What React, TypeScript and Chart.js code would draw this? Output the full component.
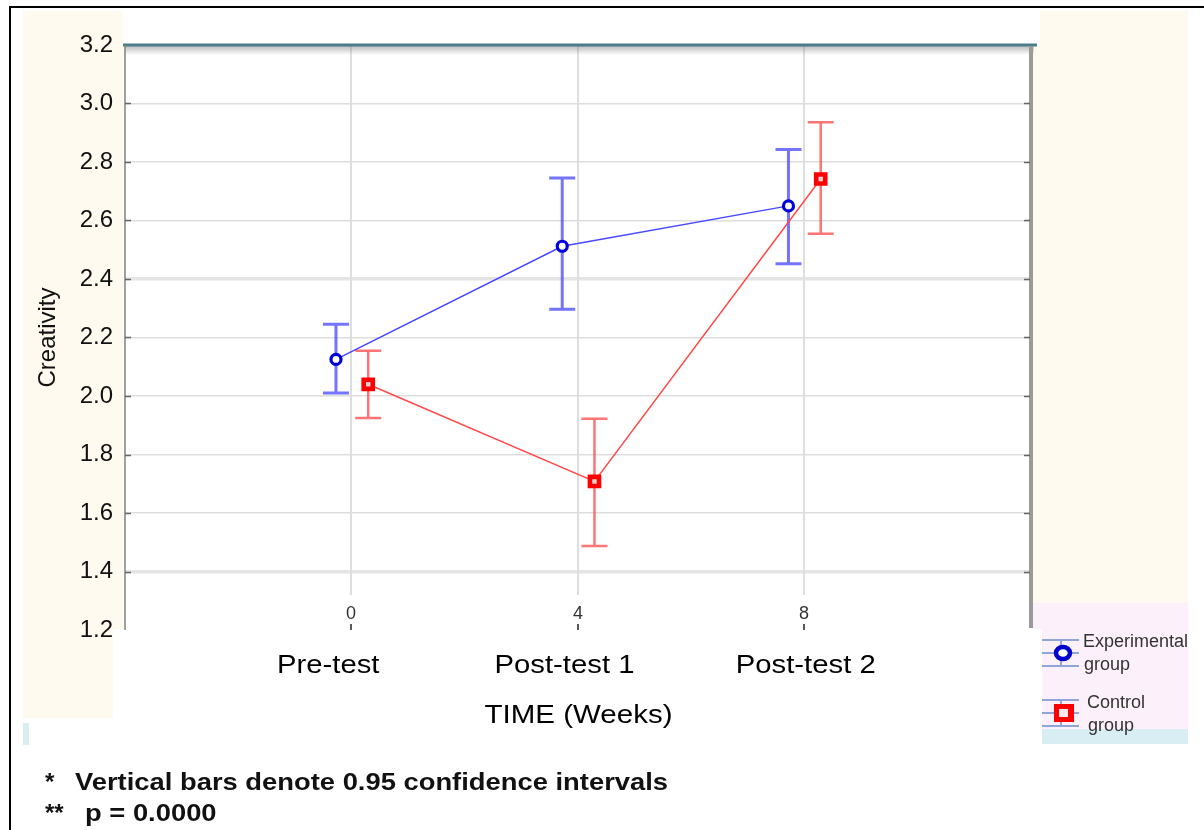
import React, { useEffect, useRef } from 'react';
import { Chart, registerables } from 'chart.js';
Chart.register(...registerables);

// ---------- data ----------
const weeks = [0, 4, 8];
const weekTickLabels = ['0', '4', '8'];
const phaseLabels = ['Pre-test', 'Post-test 1', 'Post-test 2'];
const seriesNames = ['Experimental group', 'Control group'];
const expMean = [2.125, 2.512, 2.65];
const expLow = [2.01, 2.297, 2.452];
const expHigh = [2.245, 2.745, 2.843];
const ctrlMean = [2.04, 1.708, 2.742];
const ctrlLow = [1.925, 1.487, 2.555];
const ctrlHigh = [2.155, 1.922, 2.936];
const xAxisTitle = 'TIME (Weeks)';
const yAxisTitle = 'Creativity';
const footMarks = ['*', '**'];
const footTexts = ['Vertical bars denote 0.95 confidence intervals', 'p = 0.0000'];

// ---------- style ----------
const FONT = '"Liberation Sans", Arial, Helvetica, sans-serif';
const EXP_SHIFT = -0.27;
const CTRL_SHIFT = 0.3;
const near = (a: number, b: number) => Math.abs(a - b) < 1e-6;

function stretchText(ctx: CanvasRenderingContext2D, text: string, x: number, y: number, font: string, align: string, sx: number, color: string) {
  ctx.save();
  ctx.font = font;
  ctx.fillStyle = color;
  ctx.textBaseline = 'alphabetic';
  ctx.textAlign = 'left';
  const w = ctx.measureText(text).width * sx;
  const left = align === 'center' ? x - w / 2 : align === 'right' ? x - w : x;
  ctx.translate(left, y);
  ctx.scale(sx, 1);
  ctx.fillText(text, 0, 0);
  ctx.restore();
}

const paperPlugin = {
  id: 'paper',
  beforeDraw(chart: any) {
    const ctx = chart.ctx as CanvasRenderingContext2D;
    const a = chart.chartArea;
    ctx.save();
    ctx.fillStyle = '#ffffff';
    ctx.fillRect(0, 0, chart.width, chart.height);
    ctx.fillStyle = '#fffaef';
    ctx.fillRect(23, 11, 1165, 707);
    ctx.fillStyle = '#ffffff';
    ctx.fillRect(123, 11, 917, 34);
    ctx.fillRect(a.left, a.top, a.right - a.left, a.bottom - a.top);
    ctx.fillStyle = '#fcf0fa';
    ctx.fillRect(1032, 603, 156, 126);
    ctx.fillStyle = '#ffffff';
    ctx.fillRect(113, 629, 929, 201);
    ctx.fillStyle = '#d9eef3';
    ctx.fillRect(1042, 729, 146, 15);
    ctx.fillRect(23, 723, 6, 22);
    // outer frame
    ctx.fillStyle = '#000000';
    ctx.fillRect(9, 6, chart.width - 9, 2);
    ctx.fillRect(9, 6, 2, chart.height - 6);
    ctx.restore();
  },
  beforeDatasetsDraw(chart: any) {
    const ctx = chart.ctx as CanvasRenderingContext2D;
    const a = chart.chartArea;
    const xs = chart.scales.x;
    const ys = chart.scales.y;
    ctx.save();
    // vertical grid lines, tick labels and tick marks at the week ticks
    weeks.forEach((w, i) => {
      const px = Math.round(xs.getPixelForValue(w));
      ctx.strokeStyle = '#dedede';
      ctx.lineWidth = 2;
      ctx.beginPath();
      ctx.moveTo(px, a.top);
      ctx.lineTo(px, a.bottom - 35);
      ctx.stroke();
      ctx.font = `18px ${FONT}`;
      ctx.fillStyle = '#333';
      ctx.textAlign = 'center';
      ctx.textBaseline = 'middle';
      ctx.fillText(weekTickLabels[i], px, a.bottom - 16);
      ctx.strokeStyle = '#222';
      ctx.lineWidth = 1.5;
      ctx.beginPath();
      ctx.moveTo(px, a.bottom - 6);
      ctx.lineTo(px, a.bottom);
      ctx.stroke();
    });
    // top shadow + teal line
    const g = ctx.createLinearGradient(0, a.top, 0, a.top + 10);
    g.addColorStop(0, 'rgba(120,120,120,0.55)');
    g.addColorStop(1, 'rgba(120,120,120,0)');
    ctx.fillStyle = g;
    ctx.fillRect(a.left, a.top, a.right - a.left + 4, 10);
    ctx.strokeStyle = '#4b7d89';
    ctx.lineWidth = 3;
    ctx.beginPath();
    ctx.moveTo(a.left - 2, a.top);
    ctx.lineTo(a.right + 7, a.top);
    ctx.stroke();
    // left axis
    ctx.strokeStyle = '#808080';
    ctx.lineWidth = 1.5;
    ctx.beginPath();
    ctx.moveTo(a.left, a.top);
    ctx.lineTo(a.left, a.bottom);
    ctx.stroke();
    // right axis
    ctx.strokeStyle = '#9a9a9a';
    ctx.lineWidth = 4;
    ctx.beginPath();
    ctx.moveTo(a.right + 1, a.top + 1);
    ctx.lineTo(a.right + 1, a.bottom - 2);
    ctx.stroke();
    // inner y tick marks
    ctx.strokeStyle = '#666';
    ctx.lineWidth = 1.5;
    ys.ticks.forEach((t: any) => {
      if (near(t.value, 3.2) || near(t.value, 1.2)) return;
      const py = Math.round(ys.getPixelForValue(t.value)) + 0.5;
      ctx.beginPath();
      ctx.moveTo(a.left, py);
      ctx.lineTo(a.left + 6, py);
      ctx.moveTo(a.right - 6, py);
      ctx.lineTo(a.right, py);
      ctx.stroke();
    });
    // confidence interval bars
    chart.data.datasets.forEach((ds: any) => {
      ctx.strokeStyle = ds.barColor;
      ctx.lineWidth = ds.barWidth;
      ds.data.forEach((p: any, i: number) => {
        const px = xs.getPixelForValue(p.x);
        const yl = ys.getPixelForValue(ds.errLow[i]);
        const yh = ys.getPixelForValue(ds.errHigh[i]);
        ctx.beginPath();
        ctx.moveTo(px, yh);
        ctx.lineTo(px, yl);
        ctx.moveTo(px - 13, yh);
        ctx.lineTo(px + 13, yh);
        ctx.moveTo(px - 13, yl);
        ctx.lineTo(px + 13, yl);
        ctx.stroke();
      });
    });
    ctx.restore();
  },
  afterDraw(chart: any) {
    const ctx = chart.ctx as CanvasRenderingContext2D;
    const a = chart.chartArea;
    const xs = chart.scales.x;
    // category labels below tick labels
    const shifts = [-23, -13, 2];
    phaseLabels.forEach((lab, i) => {
      const px = xs.getPixelForValue(weeks[i]) + shifts[i];
      stretchText(ctx, lab, px, 673, `25px ${FONT}`, 'center', 1.17, '#000');
    });
    stretchText(ctx, xAxisTitle, (a.left + a.right) / 2 + 1, 723, `25px ${FONT}`, 'center', 1.18, '#000');
    // legend
    const rows = [
      { cy: 653, tx: 1083, b1: 647, b2: 670 },
      { cy: 713, tx: 1087, b1: 708, b2: 731 },
    ];
    ctx.save();
    ctx.beginPath();
    ctx.rect(1030, 600, 158, 150);
    ctx.clip();
    chart.data.datasets.forEach((ds: any, i: number) => {
      const r = rows[i];
      ctx.strokeStyle = '#8ea7d8';
      ctx.lineWidth = 2;
      ctx.beginPath();
      [-13, 0, 13].forEach((d) => {
        ctx.moveTo(1042, r.cy + d);
        ctx.lineTo(1079, r.cy + d);
      });
      ctx.moveTo(1061, r.cy - 13);
      ctx.lineTo(1061, r.cy + 13);
      ctx.stroke();
      if (ds.pointStyle === 'circle') {
        ctx.fillStyle = '#ffffff';
        ctx.strokeStyle = '#0000cc';
        ctx.lineWidth = 4.5;
        ctx.beginPath();
        ctx.ellipse(1063, r.cy, 7, 6, 0, 0, Math.PI * 2);
        ctx.fill();
        ctx.stroke();
      } else {
        ctx.fillStyle = '#ff0000';
        ctx.fillRect(1054, r.cy - 9, 20, 18);
        ctx.fillStyle = '#fde8f0';
        ctx.fillRect(1059, r.cy - 4, 9, 8);
      }
      const parts = String(ds.label).split(' ');
      ctx.font = `18px ${FONT}`;
      ctx.fillStyle = '#333333';
      ctx.textAlign = 'left';
      ctx.textBaseline = 'alphabetic';
      ctx.fillText(parts[0], r.tx, r.b1);
      ctx.fillText(parts.slice(1).join(' '), r.tx + 1, r.b2);
    });
    ctx.restore();
    // footnotes
    const fy = [790, 821];
    const fx = [75, 85];
    footTexts.forEach((t, i) => {
      stretchText(ctx, footMarks[i], 45, fy[i], `bold 24px ${FONT}`, 'left', 1.0, '#111');
      stretchText(ctx, t, fx[i], fy[i], `bold 24px ${FONT}`, 'left', 1.14, '#111');
    });
  },
};

export default function App() {
  const ref = useRef<HTMLCanvasElement | null>(null);
  useEffect(() => {
    if (!ref.current) return;
    const chart = new Chart(ref.current, {
      type: 'scatter',
      data: {
        datasets: [
          {
            label: seriesNames[0],
            data: weeks.map((w, i) => ({ x: w + EXP_SHIFT, y: expMean[i] })),
            showLine: true,
            borderColor: '#4848ff',
            borderWidth: 1.5,
            pointStyle: 'circle',
            pointRadius: 5,
            pointBorderWidth: 3.2,
            pointBorderColor: '#0000dd',
            pointBackgroundColor: '#ffffff',
            errLow: expLow,
            errHigh: expHigh,
            barColor: 'rgba(70,70,255,0.75)',
            barWidth: 3,
          } as any,
          {
            label: seriesNames[1],
            data: weeks.map((w, i) => ({ x: w + CTRL_SHIFT, y: ctrlMean[i] })),
            showLine: true,
            borderColor: '#ff4848',
            borderWidth: 1.5,
            pointStyle: 'rect',
            pointRadius: 6.4,
            pointBorderWidth: 4.6,
            pointBorderColor: '#ff0000',
            pointBackgroundColor: '#ffd0d0',
            errLow: ctrlLow,
            errHigh: ctrlHigh,
            barColor: 'rgba(255,70,70,0.75)',
            barWidth: 2.5,
          } as any,
        ],
      },
      options: {
        responsive: false,
        animation: false,
        devicePixelRatio: 1,
        layout: { padding: { left: 23, top: 45, right: 174, bottom: 0 } },
        plugins: { legend: { display: false }, tooltip: { enabled: false } },
        scales: {
          x: {
            type: 'linear',
            min: -4,
            max: 12,
            afterFit: (s: any) => { s.height = 200; },
            grid: { display: false },
            border: { display: false },
            ticks: { display: false, stepSize: 4 },
          },
          y: {
            min: 1.2,
            max: 3.2,
            afterFit: (s: any) => { s.width = 102; },
            border: { display: false },
            grid: {
              drawTicks: false,
              color: (c: any) => {
                const v = c.tick.value;
                if (near(v, 3.2) || near(v, 1.2)) return 'rgba(0,0,0,0)';
                if (near(v, 2.4) || near(v, 1.4)) return '#e4e4e4';
                return '#dedede';
              },
              lineWidth: (c: any) => {
                const v = c.tick.value;
                return near(v, 2.4) || near(v, 1.4) ? 3.5 : 1.5;
              },
            },
            ticks: {
              stepSize: 0.2,
              padding: 12,
              color: '#111',
              font: { family: FONT, size: 24 },
              callback: (v: any) => Number(v).toFixed(1),
            },
            title: {
              display: true,
              text: yAxisTitle,
              color: '#111',
              font: { family: FONT, size: 24 },
              padding: { top: 11, bottom: 0 },
            },
          },
        },
      },
      plugins: [paperPlugin],
    } as any);
    return () => chart.destroy();
  }, []);
  return (
    <div style={{ position: 'absolute', left: 0, top: 0, width: 1204, height: 830 }}>
      <canvas ref={ref} width={1204} height={830} />
    </div>
  );
}
